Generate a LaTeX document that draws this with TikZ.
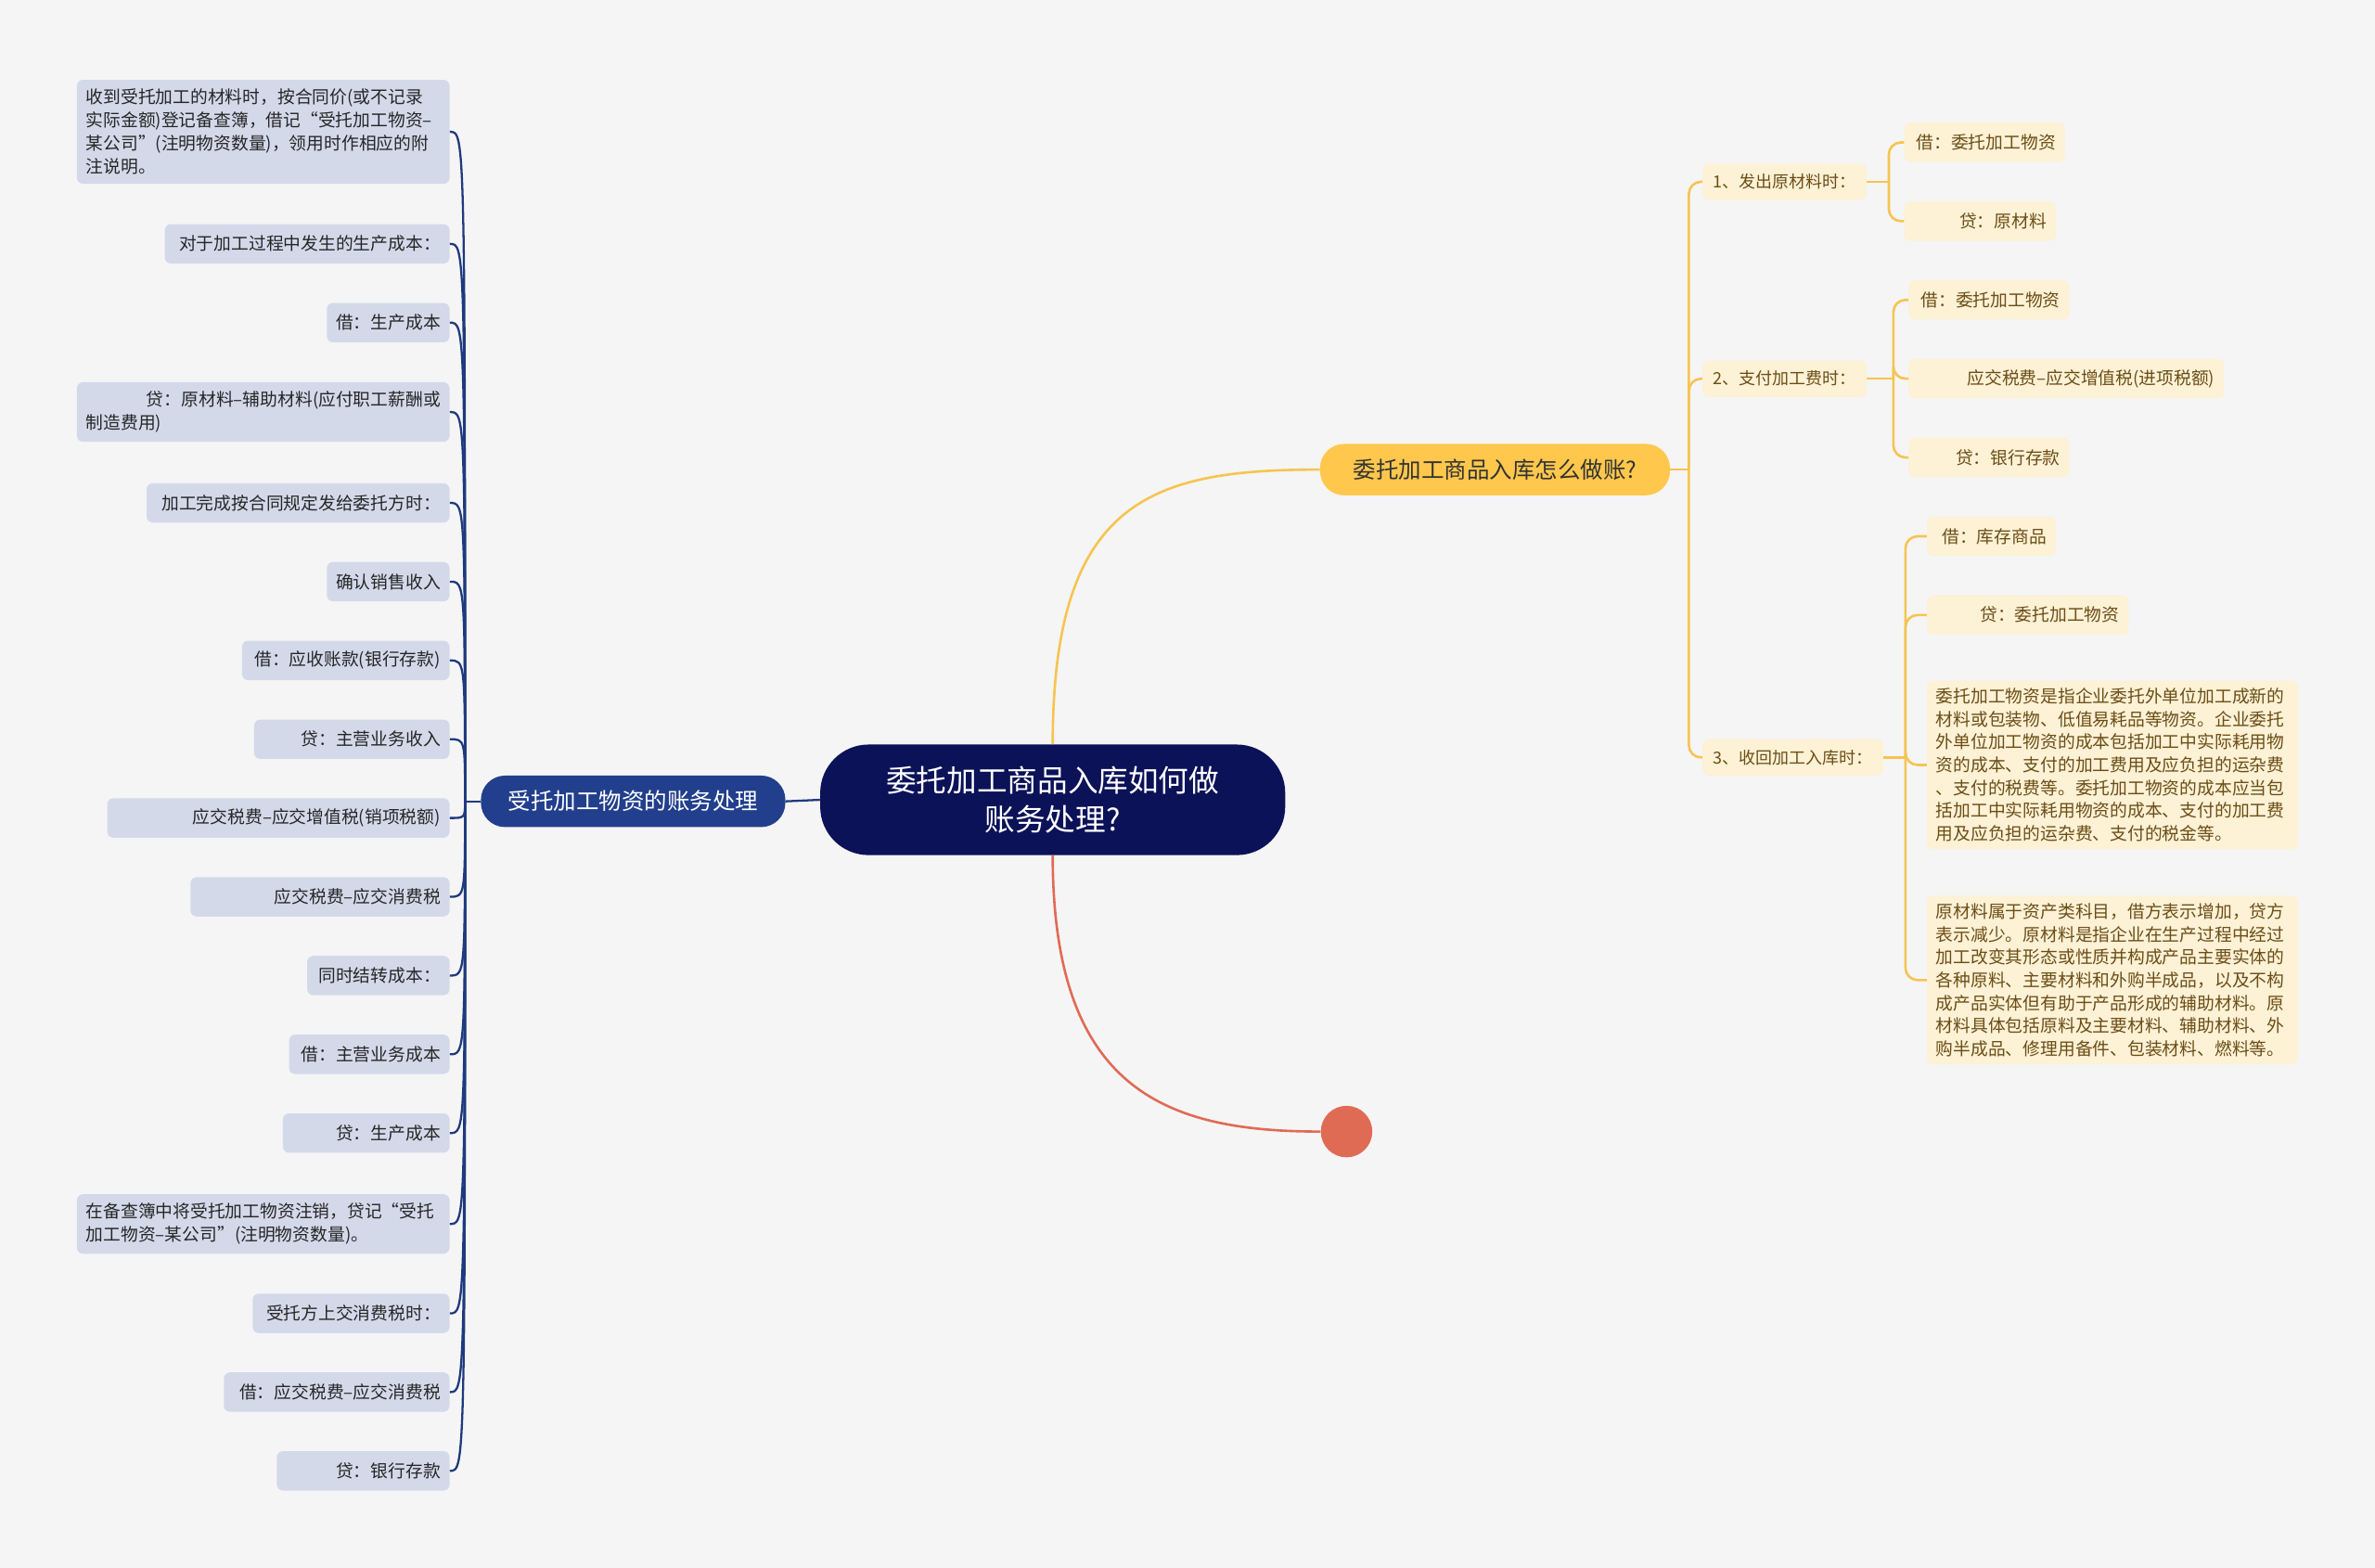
\documentclass[tikz,border=0pt]{standalone}
\usepackage{fontspec}
\setmainfont{Noto Sans CJK SC}
\usetikzlibrary{positioning,calc}
\definecolor{mmbg}{HTML}{F5F5F5}
\definecolor{mmroot}{HTML}{0B1258}
\definecolor{mmnavy}{HTML}{213F8C}
\definecolor{mmnavyline}{HTML}{1E3A7E}
\definecolor{mmlav}{HTML}{D4D9EA}
\definecolor{mmgold}{HTML}{FFC84D}
\definecolor{mmgoldline}{HTML}{F6C451}
\definecolor{mmcream}{HTML}{FDF1D6}
\definecolor{mmbrown}{HTML}{6B4E16}
\definecolor{mmred}{HTML}{E06B55}
\tikzset{
  rootbox/.style={rounded corners=32pt,fill=mmroot,text=white,align=center,font=\fontsize{20}{26}\selectfont,minimum width=307pt,minimum height=73pt,inner sep=0pt},
  mainL/.style={rounded corners=16pt,fill=mmnavy,text=white,font=\fontsize{15}{18}\selectfont,minimum width=201pt,minimum height=34pt,inner sep=0pt},
  mainR/.style={mainL,fill=mmgold,text=black!80,minimum width=231pt},
  lleaf/.style={rounded corners=4pt,fill=mmlav,text=black!85,font=\fontsize{11.5}{15.3}\selectfont,inner xsep=6pt,inner ysep=6pt,minimum height=26pt,anchor=east},
  rleaf/.style={lleaf,fill=mmcream,text=mmbrown,anchor=west},
  rmid/.style={rleaf,font=\fontsize{11}{14}\selectfont,inner xsep=7pt,minimum height=24pt},
  lline/.style={draw=mmnavyline,line width=1.4pt},
  rline/.style={draw=mmgoldline,line width=1.6pt,rounded corners=8pt},
}
\begin{document}
\begin{tikzpicture}[x=1pt,y=-1pt]
  \fill[mmbg] (0,0) rectangle (1568,1035);
  % centre
  \node[rootbox] (root) at (695,528) {委托加工商品入库如何做\\账务处理?};
  \node[mainL] (acc) at (418,529) {受托加工物资的账务处理};
  \node[mainR] (ask) at (987,310) {委托加工商品入库怎么做账?};
  \node[circle,fill=mmred,minimum size=34pt,inner sep=0pt] (dot) at (889,747) {};
  \draw[draw=mmgoldline,line width=1.6pt] (root.north) .. controls (695,330) and (760,310) .. (ask.west);
  \draw[draw=mmred,line width=1.6pt] (root.south) .. controls (695,720) and (770,747) .. (dot.west);
  % left branch
  \coordinate (hubL) at (307,529);
  \draw[lline] (root.west) -- (acc.east);
  \draw[lline] (acc.west) -- (hubL);
  \node[lleaf,text width=234pt,align=left] (l1) at (297,87) {收到受托加工的材料时，按合同价(或不记录\\实际金额)登记备查簿，借记“受托加工物资–\\某公司”(注明物资数量)，领用时作相应的附\\注说明。};
  \node[lleaf,text width=234pt,align=left] (l4) at (297,272) {\hfill 贷：原材料–辅助材料(应付职工薪酬或\\制造费用)};
  \node[lleaf,text width=234pt,align=left] (l14) at (297,808) {在备查簿中将受托加工物资注销，贷记“受托\\加工物资–某公司”(注明物资数量)。};
  \foreach \i/\y/\tw/\t in {2/161/176/{对于加工过程中发生的生产成本：},3/213/69/{借：生产成本},
    5/332/188/{加工完成按合同规定发给委托方时：},6/384/69/{确认销售收入},7/436/125/{借：应收账款(银行存款)},
    8/488/117/{贷：主营业务收入},9/540/214/{应交税费–应交增值税(销项税额)},10/592/159/{应交税费–应交消费税},
    11/644/82/{同时结转成本：},12/696/94/{借：主营业务成本},13/748/98/{贷：生产成本},
    15/867/118/{受托方上交消费税时：},16/919/137/{借：应交税费–应交消费税},17/971/102/{贷：银行存款}}
    \node[lleaf,text width=\tw pt,align=right,inner ysep=0pt] (l\i) at (297,\y) {\t};
  \foreach \i in {1,...,17}
    \draw[lline] (hubL) .. controls (hubL|-l\i.east) .. (l\i.east);
  % right branch
  \coordinate (hubR) at (1115,310);
  \draw[rline] (ask.east) -- (hubR);
  \node[rmid] (s1) at (1124,120) {1、发出原材料时：};
  \node[rmid] (s2) at (1124,250) {2、支付加工费时：};
  \node[rmid] (s3) at (1124,500) {3、收回加工入库时：};
  \foreach \i in {1,2,3}
    \draw[rline] (hubR) |- (s\i.west);
  \foreach \n/\x/\y/\tw/\t in {a1/1257/94/94/{借：委托加工物资},a2/1257/146/88/{贷：原材料},
    b1/1260/198/94/{借：委托加工物资},b2/1260/250/196/{应交税费–应交增值税(进项税额)},b3/1260/302/94/{贷：银行存款},
    c1/1272/354/73/{借：库存商品},c2/1272/406/121/{贷：委托加工物资}}
    \node[rleaf,text width=\tw pt,align=right,inner ysep=0pt] (\n) at (\x,\y) {\t};
  \node[rleaf,text width=233pt,align=left,inner ysep=5pt,font=\fontsize{11.5}{15.1}\selectfont] (c3) at (1272,505) {委托加工物资是指企业委托外单位加工成新的\\材料或包装物、低值易耗品等物资。企业委托\\外单位加工物资的成本包括加工中实际耗用物\\资的成本、支付的加工费用及应负担的运杂费\\、支付的税费等。委托加工物资的成本应当包\\括加工中实际耗用物资的成本、支付的加工费\\用及应负担的运杂费、支付的税金等。};
  \node[rleaf,text width=233pt,align=left,inner ysep=5pt,font=\fontsize{11.5}{15.1}\selectfont] (c4) at (1272,647) {原材料属于资产类科目，借方表示增加，贷方\\表示减少。原材料是指企业在生产过程中经过\\加工改变其形态或性质并构成产品主要实体的\\各种原料、主要材料和外购半成品，以及不构\\成产品实体但有助于产品形成的辅助材料。原\\材料具体包括原料及主要材料、辅助材料、外\\购半成品、修理用备件、包装材料、燃料等。};
  \coordinate (hubA) at (1247,120);
  \coordinate (hubB) at (1250,250);
  \coordinate (hubC) at (1258,500);
  \draw[rline] (s1.east) -- (hubA);
  \draw[rline] (s2.east) -- (hubB);
  \draw[rline] (s3.east) -- (hubC);
  \foreach \n in {a1,a2}
    \draw[rline] (hubA) |- (\n.west);
  \foreach \n in {b1,b2,b3}
    \draw[rline] (hubB) |- (\n.west);
  \foreach \n in {c1,c2,c3,c4}
    \draw[rline] (hubC) |- (\n.west);
\end{tikzpicture}
\end{document}
